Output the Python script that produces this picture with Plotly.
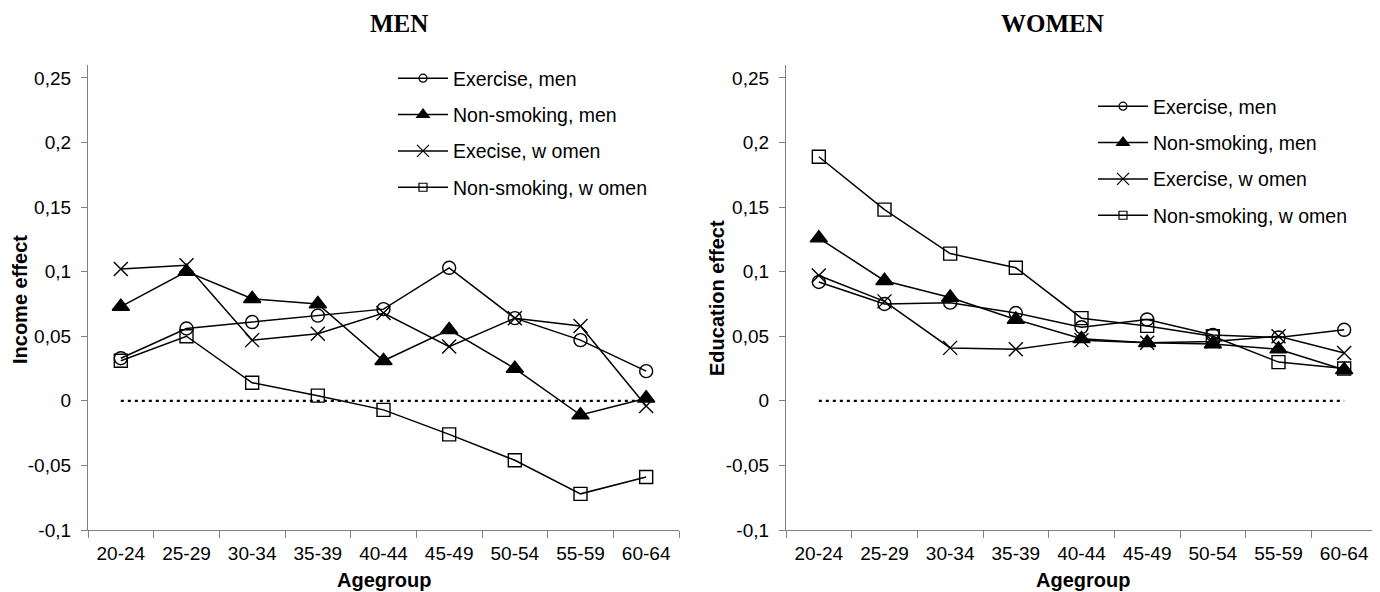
import plotly.graph_objects as go

agegroups = ["20-24", "25-29", "30-34", "35-39", "40-44", "45-49", "50-54", "55-59", "60-64"]

# MEN panel (Income effect)
men_exercise_men = [0.033, 0.056, 0.061, 0.066, 0.071, 0.103, 0.064, 0.047, 0.023]
men_nonsmoking_men = [0.073, 0.100, 0.079, 0.075, 0.031, 0.055, 0.025, -0.011, 0.002]
men_exercise_women = [0.102, 0.105, 0.047, 0.052, 0.068, 0.042, 0.064, 0.058, -0.004]
men_nonsmoking_women = [0.031, 0.050, 0.014, 0.004, -0.007, -0.026, -0.046, -0.072, -0.059]

# WOMEN panel (Education effect)
women_exercise_men = [0.092, 0.075, 0.076, 0.068, 0.057, 0.063, 0.051, 0.049, 0.055]
women_nonsmoking_men = [0.126, 0.093, 0.080, 0.063, 0.048, 0.045, 0.044, 0.040, 0.024]
women_exercise_women = [0.097, 0.077, 0.041, 0.040, 0.047, 0.045, 0.046, 0.050, 0.037]
women_nonsmoking_women = [0.189, 0.148, 0.114, 0.103, 0.064, 0.058, 0.050, 0.030, 0.025]

zero_x = [agegroups[0], agegroups[-1]]
zero_y = [0, 0]

left_names = ["Exercise, men", "Non-smoking, men", "Execise, w omen", "Non-smoking, w omen"]
right_names = ["Exercise, men", "Non-smoking, men", "Exercise, w omen", "Non-smoking, w omen"]

ytick_vals = [-0.1, -0.05, 0, 0.05, 0.1, 0.15, 0.2, 0.25]
ytick_text = ["-0,1", "-0,05", "0", "0,05", "0,1", "0,15", "0,2", "0,25"]

symbols = ["circle-open", "triangle-up", "x-thin-open", "square-open"]
sizes = [13, 15, 14, 13]
leg_sizes = [8, 11, 12, 8]

fig = go.Figure()

def add_panel(series, names, xa, ya, legend):
    for vals, name, sym, sz in zip(series, names, symbols, sizes):
        fig.add_trace(go.Scatter(
            x=agegroups, y=vals, mode="lines+markers", name=name,
            line=dict(color="black", width=1.5),
            marker=dict(symbol=sym, size=sz, color="black",
                        line=dict(color="black", width=1.4)),
            xaxis=xa, yaxis=ya, showlegend=False, cliponaxis=False))
    for name, sym, lsz in zip(names, symbols, leg_sizes):
        fig.add_trace(go.Scatter(
            x=[None], y=[None], mode="lines+markers", name=name,
            line=dict(color="black", width=1.5),
            marker=dict(symbol=sym, size=lsz, color="black",
                        line=dict(color="black", width=1.2)),
            xaxis=xa, yaxis=ya, legend=legend, legendgroup=legend + name,
            showlegend=True))
    fig.add_trace(go.Scatter(
        x=zero_x, y=zero_y, mode="lines", showlegend=False,
        line=dict(color="black", width=2.2, dash="3px,4px"),
        xaxis=xa, yaxis=ya))

add_panel([men_exercise_men, men_nonsmoking_men, men_exercise_women, men_nonsmoking_women],
          left_names, "x", "y", "legend")
add_panel([women_exercise_men, women_nonsmoking_men, women_exercise_women, women_nonsmoking_women],
          right_names, "x2", "y2", "legend2")

# page has an 8px body margin; figure sized to fit the 1380x592 window
OFF = 8
W, H = 1380 - OFF, 592 - OFF

def px(x):
    return (x - OFF) / W

def py(y):
    return 1 - (y - OFF) / H

ydom = [py(530), py(65)]

xaxis_common = dict(
    type="category", categoryorder="array", categoryarray=agegroups,
    range=[-0.5, 8.5], showline=True, linecolor="#808080", linewidth=1.2,
    ticks="outside", tickson="boundaries", ticklen=7, tickcolor="#808080",
    tickwidth=1.2, showgrid=False, zeroline=False, automargin=False,
    tickfont=dict(family="Liberation Sans, Arial", size=19, color="black"),
    ticklabelstandoff=6,
)
yaxis_common = dict(
    range=[-0.1, 0.26], showline=True, linecolor="#808080", linewidth=1.2,
    ticks="outside", ticklen=6, tickcolor="#808080", tickwidth=1.2,
    tickvals=ytick_vals, ticktext=ytick_text, showgrid=False, zeroline=False,
    automargin=False,
    tickfont=dict(family="Liberation Sans, Arial", size=19, color="black"),
    ticklabelstandoff=6,
)

legend_font = dict(family="Liberation Sans, Arial", size=19.5, color="black")

fig.update_layout(
    width=W, height=H,
    margin=dict(l=0, r=0, t=0, b=0, autoexpand=False),
    paper_bgcolor="white", plot_bgcolor="white",
    xaxis=dict(domain=[px(88), px(679)], anchor="y", **xaxis_common),
    yaxis=dict(domain=ydom, anchor="x", **yaxis_common),
    xaxis2=dict(domain=[px(786), px(1377)], anchor="y2", **xaxis_common),
    yaxis2=dict(domain=ydom, anchor="x2", **yaxis_common),
    legend=dict(x=px(393), y=py(59), xanchor="left", yanchor="top",
                font=legend_font, bgcolor="rgba(0,0,0,0)",
                itemwidth=50, tracegroupgap=8),
    legend2=dict(x=px(1093), y=py(87), xanchor="left", yanchor="top",
                 font=legend_font, bgcolor="rgba(0,0,0,0)",
                 itemwidth=50, tracegroupgap=8),
    showlegend=True,
)

font_title = dict(family="Liberation Serif, Times New Roman", size=25, color="black")
font_axis = dict(family="Liberation Sans, Arial", size=20, color="black")

annotations = [
    dict(text="<b>MEN</b>", x=px(399), y=py(23), font=font_title),
    dict(text="<b>WOMEN</b>", x=px(1052), y=py(23), font=font_title),
    dict(text="<b>Agegroup</b>", x=px(384), y=py(580), font=font_axis),
    dict(text="<b>Agegroup</b>", x=px(1083), y=py(580), font=font_axis),
    dict(text="<b>Income effect</b>", x=px(20), y=py(300), font=font_axis, textangle=-90),
    dict(text="<b>Education effect</b>", x=px(717), y=py(298), font=font_axis, textangle=-90),
]
for a in annotations:
    fig.add_annotation(xref="paper", yref="paper", showarrow=False,
                       xanchor="center", yanchor="middle", **a)

fig.write_html("out.html")
